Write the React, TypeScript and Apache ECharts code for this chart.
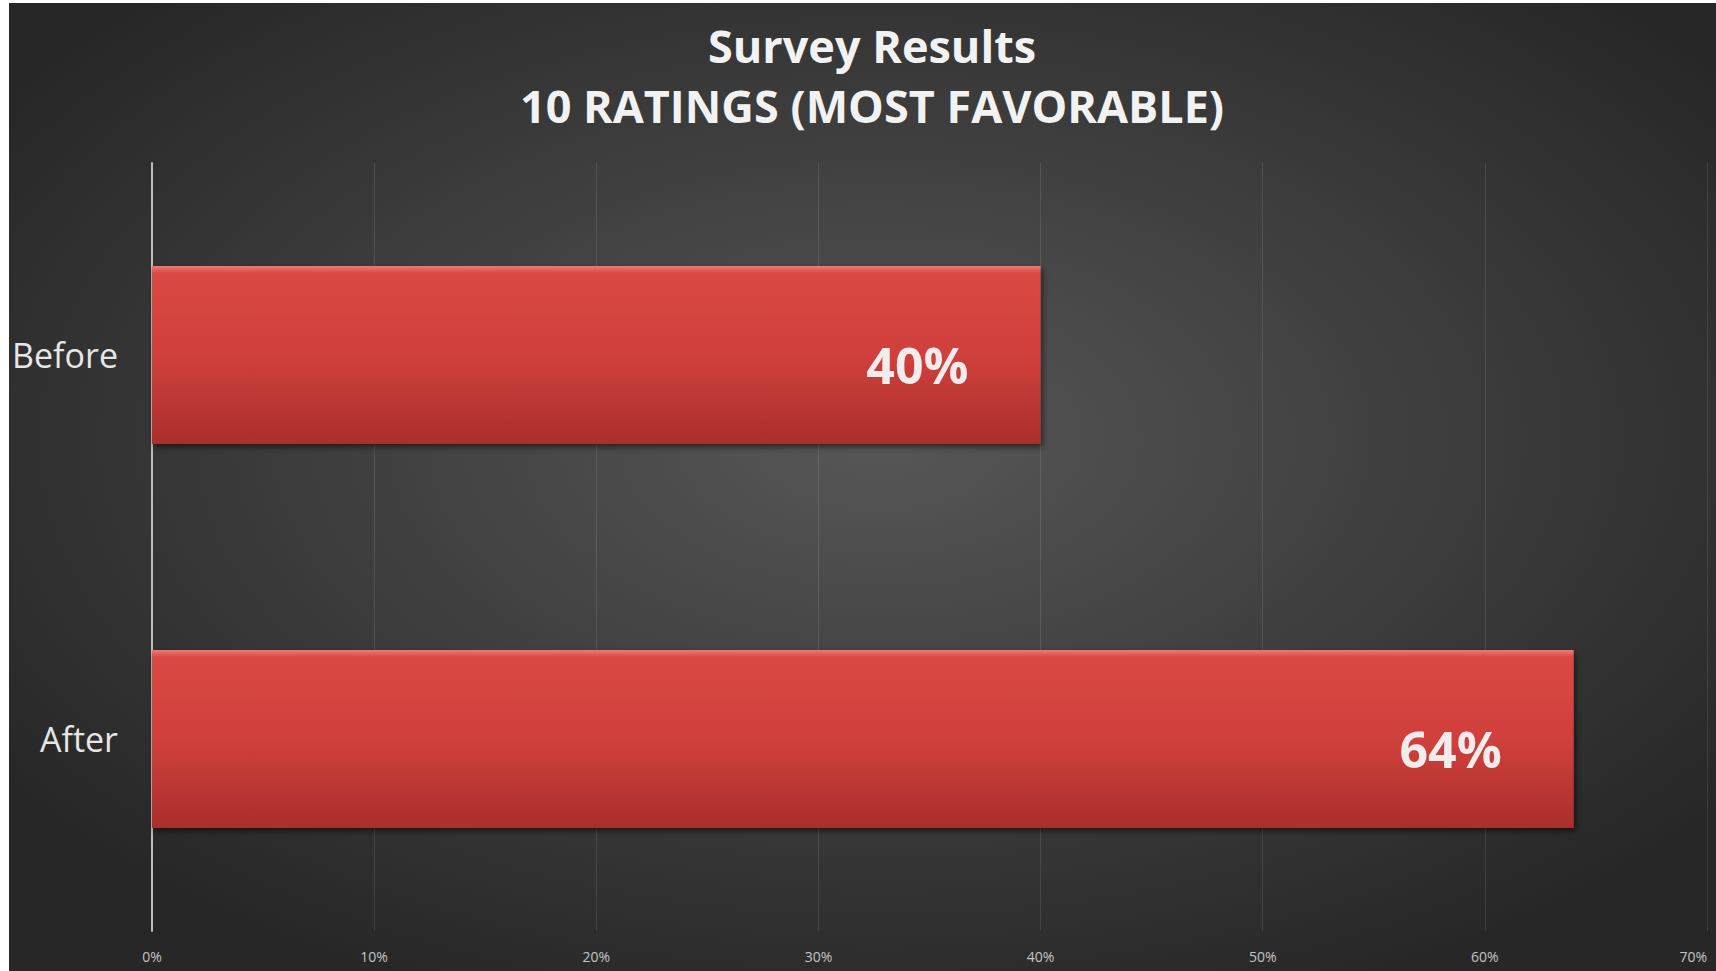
import React, { useEffect, useRef } from "react";
import * as echarts from "echarts";

const titleLines = ["Survey Results", "10 RATINGS (MOST FAVORABLE)"];
const categories = ["Before", "After"];
const values = [0.4, 0.64];
const axisMax = 0.7;
const axisStep = 0.1;

export default function App() {
  const ref = useRef<HTMLDivElement>(null);
  useEffect(() => {
    if (!ref.current) return;
    const chart = echarts.init(ref.current, null, { renderer: "svg" });
    chart.setOption({
      animation: false,
      backgroundColor: {
        type: "radial",
        x: 0.51,
        y: 0.45,
        r: 0.62,
        colorStops: [
          { offset: 0, color: "#575757" },
          { offset: 0.6, color: "#3a3a3a" },
          { offset: 1, color: "#272727" },
        ],
      },
      title: {
        text: titleLines.join("\n"),
        left: 858,
        textAlign: "center",
        top: 7,
        textStyle: {
          color: "#f2f2f2",
          fontFamily: "Open Sans",
          fontWeight: "bold",
          fontSize: 45,
          lineHeight: 60,
        },
      },
      grid: {
        left: 143,
        right: 9,
        top: 160,
        bottom: 40,
        containLabel: false,
        outerBoundsMode: "none",
      },
      xAxis: {
        type: "value",
        min: 0,
        max: axisMax,
        interval: axisStep,
        axisLine: { show: false },
        axisTick: { show: false },
        splitLine: { show: true, lineStyle: { color: "rgba(255,255,255,0.1)", width: 1 } },
        axisLabel: {
          color: "#c4c4c4",
          fontFamily: "Open Sans",
          fontSize: 14,
          margin: 18,
          alignMaxLabel: "right",
          formatter: (v: number) => Math.round(v * 100) + "%",
        },
      },
      yAxis: {
        type: "category",
        data: categories,
        inverse: true,
        axisLine: { show: true, lineStyle: { color: "#bdbdbd", width: 2 } },
        axisTick: { show: false },
        axisLabel: {
          color: "#e6e6e6",
          fontFamily: "Open Sans",
          fontSize: 34,
          margin: 34,
        },
      },
      series: [
        {
          type: "bar",
          data: values,
          barWidth: 178,
          itemStyle: {
            color: {
              type: "linear",
              x: 0,
              y: 0,
              x2: 0,
              y2: 1,
              colorStops: [
                { offset: 0, color: "#f07a72" },
                { offset: 0.04, color: "#da4844" },
                { offset: 0.5, color: "#d0403c" },
                { offset: 1, color: "#a92f2c" },
              ],
            },
            shadowBlur: 6,
            shadowColor: "rgba(0,0,0,0.55)",
            shadowOffsetY: 3,
            shadowOffsetX: 2,
          },
          label: {
            show: true,
            position: "insideRight",
            distance: 72,
            offset: [0, 10],
            color: "#f3ecec",
            fontFamily: "Open Sans",
            fontWeight: "bold",
            fontSize: 50,
            formatter: (p: any) => Math.round(p.value * 100) + "%",
          },
        },
      ],
    });
    return () => chart.dispose();
  }, []);
  return (
    <div style={{ position: "absolute", left: 0, top: 0, width: 1716, height: 971, overflow: "hidden" }}>
      <div
        ref={ref}
        style={{ position: "absolute", left: 9, top: 3, width: 1707, height: 968 }}
      />
    </div>
  );
}
